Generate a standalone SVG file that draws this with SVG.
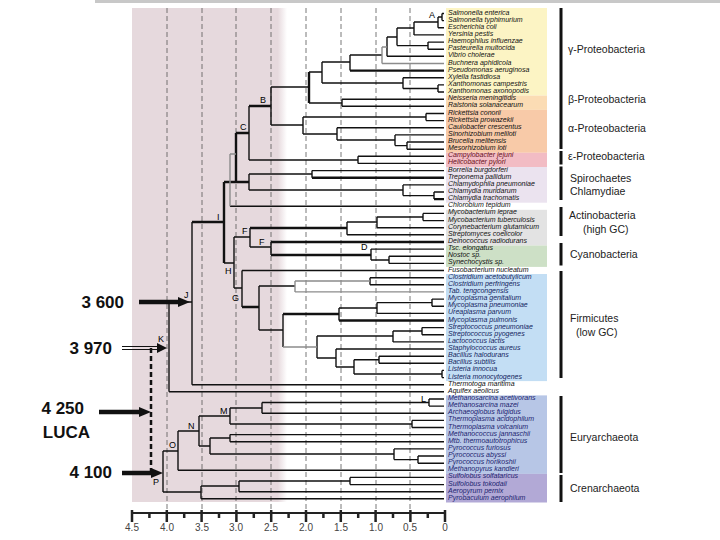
<svg xmlns="http://www.w3.org/2000/svg" width="720" height="540" viewBox="0 0 720 540">
<defs>
<linearGradient id="pk" x1="0" y1="0" x2="1" y2="0">
<stop offset="0" stop-color="#e6d9dd"/><stop offset="0.94" stop-color="#e6d9dd"/><stop offset="1" stop-color="#e6d9dd" stop-opacity="0"/>
</linearGradient>
<marker id="ah" markerUnits="userSpaceOnUse" markerWidth="12" markerHeight="10" refX="4" refY="5" orient="auto">
<path d="M0,0 L12,5 L0,10 z" fill="#111"/>
</marker>
</defs>
<style>
.sp{font-family:"Liberation Sans",Arial,sans-serif;font-size:7px;font-style:italic;fill:#111}
.e{fill:#6a1020}
.f{fill:#13245e}
.a{fill:#1c2470}
.grp{font-family:"Liberation Sans",Arial,sans-serif;font-size:10.5px;fill:#222}
.nl{font-family:"Liberation Sans",Arial,sans-serif;font-size:9px;fill:#000}
.big{font-family:"Liberation Sans",Arial,sans-serif;font-size:17px;font-weight:bold;fill:#111;text-anchor:end}
.ax{font-family:"Liberation Sans",Arial,sans-serif;font-size:10px;fill:#444;text-anchor:middle}
.dash{stroke:#555;stroke-width:0.8;stroke-dasharray:5 3;fill:none}
.tn{fill:none;stroke:#111;stroke-width:1.4}
.tk{fill:none;stroke:#111;stroke-width:2.4}
.tg{fill:none;stroke:#8c8c8c;stroke-width:1.4}
.arr{stroke:#111;stroke-width:4.5;fill:none}
</style>

<rect x="95" y="0" width="625" height="3" fill="#c8c8c8"/>
<rect x="132" y="8" width="155" height="494" fill="url(#pk)"/>

<g id="bands">
<rect x="446" y="8" width="101" height="87.6" fill="#fcf4c4"/>
<rect x="446" y="95.6" width="101" height="14.3" fill="#fbdcb4"/>
<rect x="446" y="109.9" width="101" height="42.9" fill="#f8caa8"/>
<rect x="446" y="152.8" width="101" height="14.2" fill="#f2bcc4"/>
<rect x="446" y="167" width="101" height="35.7" fill="#ebe3ef"/>
<rect x="446" y="209.8" width="101" height="35.7" fill="#e3e3e3"/>
<rect x="446" y="245.5" width="101" height="21.4" fill="#cde0c6"/>
<rect x="446" y="274" width="101" height="107.1" fill="#c3def4"/>
<rect x="446" y="395.4" width="101" height="78.5" fill="#b7c6e6"/>
<rect x="446" y="473.9" width="101" height="28.6" fill="#b2a9d6"/>
</g>

<g id="grid">
<path class="dash" d="M167 8V510 M202 8V510 M236 8V510 M271 8V510 M306 8V510 M341 8V510 M376 8V510 M410 8V510"/>
</g>

<g id="axis">
<path d="M132 513H445" stroke="#222" stroke-width="2"/>
<path d="M132 510V522 M166.8 510V522 M201.6 510V522 M236.4 510V522 M271.2 510V522 M306 510V522 M340.8 510V522 M375.6 510V522 M410.4 510V522 M445 510V522" stroke="#222" stroke-width="2.5"/>
<path d="M149.4 513V518 M184.2 513V518 M219 513V518 M253.8 513V518 M288.6 513V518 M323.4 513V518 M358.2 513V518 M393 513V518 M427.8 513V518" stroke="#222" stroke-width="2.5"/>
<text class="ax" x="132" y="531">4.5</text>
<text class="ax" x="167" y="531">4.0</text>
<text class="ax" x="202" y="531">3.5</text>
<text class="ax" x="236" y="531">3.0</text>
<text class="ax" x="271" y="531">2.5</text>
<text class="ax" x="306" y="531">2.0</text>
<text class="ax" x="341" y="531">1.5</text>
<text class="ax" x="376" y="531">1.0</text>
<text class="ax" x="410" y="531">0.5</text>
<text class="ax" x="445" y="531">0</text>
</g>

<g id="connectors">
<path class="tn" d="M442 13.5H444 M442 20.6H444 M438 27.8H444 M414 34.9H444 M428 42.1H444 M428 49.2H444 M387 56.3H444 M403 77.8H444 M438 84.9H444 M438 92H444 M342 99.2H444 M342 106.3H444 M426 113.5H444 M426 120.6H444 M337 127.7H444 M395 134.9H444 M407 142H444 M407 149.2H444 M358 156.3H444 M358 163.4H444 M312 170.6H444 M403 184.9H444 M434 192H444 M230 206.3H444 M423 213.4H444 M423 220.6H444 M377 227.7H444 M347 234.8H444 M371 249.1H444 M389 256.3H444 M389 263.4H444 M242 270.5H444 M370 277.7H444 M370 284.8H444 M432 299.1H444 M432 306.2H444 M377 313.4H444 M422 327.6H444 M422 334.8H444 M393 341.9H444 M336 349H444 M379 356.2H444 M379 363.3H444 M442 370.4H444 M442 377.6H444 M192 384.7H444 M169 391.8H444 M429 399H444 M429 406.1H444 M262 413.2H444 M412 420.4H444 M412 427.5H444 M230 434.6H444 M230 441.8H444 M394 448.9H444 M418 456H444 M418 463.2H444 M178 470.3H444 M350 477.4H444 M350 484.6H444 M239 491.7H444 M201 498.8H444
M442 13.5V20.6 M438 17H442 M438 17V27.8 M414 22H438 M414 22V34.9 M397 28H414 M428 42.1V49.2 M397 45.6H428 M397 28V45.6 M387 37H397 M387 37V56.3 M350 55H382 M350 55V70.6 M322 62H350 M438 84.9V92 M403 88.5H438 M403 77.8V88.5 M322 83H403 M322 62V83 M309 72H322 M342 99.2V106.3 M309 103H342 M271 87H309
M426 113.5V120.6 M303 117H426 M407 142V149.2 M395 145.6H407 M395 134.9V145.6 M337 140H395 M337 127.7V140 M303 134H337 M303 117V134 M271 125H303 M271 87V125 M358 156.3V163.4 M249 160H358 M249 106V160
M312 170.6V177.7 M249 174H312 M434 192V199.1 M403 195.6H434 M403 184.9V195.6 M249 190H403 M249 174V190
M224 263H234 M234 237V288 M234 237H250 M250 228V247 M347 222V234.8 M347 222H377 M377 217V227.7 M377 217H423 M423 213.4V220.6 M250 247H271 M271 242V255 M371 249.1V260 M371 260H389 M389 256.3V263.4
M234 288H242 M242 270.5V307 M259 286V330 M259 286H295 M370 277.7V284.8 M259 330H283 M283 314V347 M339 308V320.5 M339 308H377 M377 302.6V313.4 M377 302.6H432 M432 299.1V306.2 M317 336V358 M317 336H393 M393 331V341.9 M393 331H422 M422 327.6V334.8 M317 358H336 M336 349V367 M336 367H354 M354 359.7V374 M354 359.7H379 M379 356.2V363.3 M354 374H442 M442 370.4V377.6
M192 222V384.7 M169 302H192 M169 302V391.8
M429 399V406.1 M262 402.5H429 M262 402.5V413.2 M230 408H262 M230 408V424 M230 424H412 M412 420.4V427.5 M199 416H230 M230 434.6V441.8 M210 438H230 M418 456V463.2 M394 459.6H418 M394 448.9V459.6 M210 454H394 M210 438V454 M199 446H210 M199 416V446 M178 431H199 M178 431V470.3 M163 451H178 M350 477.4V484.6 M239 481H350 M239 481V491.7 M201 486H239 M201 486V498.8 M163 492H201 M163 451V492"/>
<path class="tk" d="M350 70.6H444 M312 177.7H444 M434 199.1H444 M271 242H444 M339 320.5H444 M309 72V103 M249 106H271 M236 133H249 M236 133V182 M224 182H249 M224 182V263 M192 222H224 M250 228H347 M271 255H371 M242 307H259 M283 314H339"/>
<path class="tg" d="M382 63.5H444 M382 47H387 M382 47V63.5 M295 291.9H444 M295 281V291.9 M295 281H370 M230 154V206.3 M230 154H236 M283 347H317"/>
</g>

<g id="node-labels">
<text class="nl" x="429" y="18">A</text>
<text class="nl" x="260" y="103">B</text>
<text class="nl" x="240" y="130">C</text>
<text class="nl" x="361" y="250">D</text>
<text class="nl" x="242" y="234">F</text>
<text class="nl" x="259" y="245">F</text>
<text class="nl" x="232" y="301">G</text>
<text class="nl" x="225" y="274">H</text>
<text class="nl" x="217" y="220">I</text>
<text class="nl" x="184" y="298">J</text>
<text class="nl" x="158" y="342" font-size="8">K</text>
<text class="nl" x="421" y="402">L</text>
<text class="nl" x="220" y="414">M</text>
<text class="nl" x="188" y="429">N</text>
<text class="nl" x="169" y="448">O</text>
<text class="nl" x="153" y="485">P</text>
</g>

<g id="species-gamma">
<text class="sp" x="448" y="14.5">Salmonella enterica</text>
<text class="sp" x="448" y="21.6">Salmonella typhimurium</text>
<text class="sp" x="448" y="28.8">Escherichia coli</text>
<text class="sp" x="448" y="35.9">Yersinia pestis</text>
<text class="sp" x="448" y="43.1">Haemophilus influenzae</text>
<text class="sp" x="448" y="50.2">Pasteurella multocida</text>
<text class="sp" x="448" y="57.3">Vibrio cholerae</text>
<text class="sp" x="448" y="64.5">Buchnera aphidicola</text>
<text class="sp" x="448" y="71.6">Pseudomonas aeruginosa</text>
<text class="sp" x="448" y="78.8">Xylella fastidiosa</text>
<text class="sp" x="448" y="85.9">Xanthomonas campestris</text>
<text class="sp" x="448" y="93">Xanthomonas axonopodis</text>
</g>
<g id="species-beta">
<text class="sp" x="448" y="100.2">Neisseria meningitidis</text>
<text class="sp" x="448" y="107.3">Ralstonia solanacearum</text>
</g>
<g id="species-alpha">
<text class="sp" x="448" y="114.5">Rickettsia conorii</text>
<text class="sp" x="448" y="121.6">Rickettsia prowazekii</text>
<text class="sp" x="448" y="128.7">Caulobacter crescentus</text>
<text class="sp" x="448" y="135.9">Sinorhizobium meliloti</text>
<text class="sp" x="448" y="143">Brucella melitensis</text>
<text class="sp" x="448" y="150.2">Mesorhizobium loti</text>
</g>
<g id="species-epsilon">
<text class="sp e" x="448" y="157.3">Campylobacter jejuni</text>
<text class="sp e" x="448" y="164.4">Helicobacter pylori</text>
</g>
<g id="species-spiro-chlam">
<text class="sp" x="448" y="171.6">Borrelia burgdorferi</text>
<text class="sp" x="448" y="178.7">Treponema pallidum</text>
<text class="sp" x="448" y="185.9">Chlamydophila pneumoniae</text>
<text class="sp" x="448" y="193">Chlamydia muridarum</text>
<text class="sp" x="448" y="200.1">Chlamydia trachomatis</text>
<text class="sp" x="448" y="207.3">Chlorobium tepidum</text>
</g>
<g id="species-actino">
<text class="sp" x="448" y="214.4">Mycobacterium leprae</text>
<text class="sp" x="448" y="221.6">Mycobacterium tuberculosis</text>
<text class="sp" x="448" y="228.7">Corynebacterium glutamicum</text>
<text class="sp" x="448" y="235.8">Streptomyces coelicolor</text>
<text class="sp" x="448" y="243">Deinococcus radiodurans</text>
</g>
<g id="species-cyano">
<text class="sp" x="448" y="250.1">Tsc. elongatus</text>
<text class="sp" x="448" y="257.3">Nostoc sp.</text>
<text class="sp" x="448" y="264.4">Synechocystis sp.</text>
<text class="sp" x="448" y="271.5">Fusobacterium nucleatum</text>
</g>
<g id="species-firmicutes">
<text class="sp f" x="448" y="278.7">Clostridium acetobutylicum</text>
<text class="sp f" x="448" y="285.8">Clostridium perfringens</text>
<text class="sp f" x="448" y="292.9">Tab. tengcongensis</text>
<text class="sp f" x="448" y="300.1">Mycoplasma genitalium</text>
<text class="sp f" x="448" y="307.2">Mycoplasma pneumoniae</text>
<text class="sp f" x="448" y="314.4">Ureaplasma parvum</text>
<text class="sp f" x="448" y="321.5">Mycoplasma pulmonis</text>
<text class="sp f" x="448" y="328.6">Streptococcus pneumoniae</text>
<text class="sp f" x="448" y="335.8">Streptococcus pyogenes</text>
<text class="sp f" x="448" y="342.9">Lactococcus lactis</text>
<text class="sp f" x="448" y="350">Staphylococcus aureus</text>
<text class="sp f" x="448" y="357.2">Bacillus halodurans</text>
<text class="sp f" x="448" y="364.3">Bacillus subtilis</text>
<text class="sp f" x="448" y="371.4">Listeria innocua</text>
<text class="sp f" x="448" y="378.6">Listeria monocytogenes</text>
</g>
<g id="species-other">
<text class="sp" x="448" y="385.7">Thermotoga maritima</text>
<text class="sp" x="448" y="392.8">Aquifex aeolicus</text>
</g>
<g id="species-eury">
<text class="sp a" x="448" y="400">Methanosarcina acetivorans</text>
<text class="sp a" x="448" y="407.1">Methanosarcina mazei</text>
<text class="sp a" x="448" y="414.2">Archaeoglobus fulgidus</text>
<text class="sp a" x="448" y="421.4">Thermoplasma acidophilum</text>
<text class="sp a" x="448" y="428.5">Thermoplasma volcanium</text>
<text class="sp a" x="448" y="435.6">Methanococcus jannaschii</text>
<text class="sp a" x="448" y="442.8">Mtb. thermoautotrophicus</text>
<text class="sp a" x="448" y="449.9">Pyrococcus furiosus</text>
<text class="sp a" x="448" y="457">Pyrococcus abyssi</text>
<text class="sp a" x="448" y="464.2">Pyrococcus horikoshii</text>
<text class="sp a" x="448" y="471.3">Methanopyrus kandleri</text>
</g>
<g id="species-cren">
<text class="sp a" x="448" y="478.4">Sulfolobus solfataricus</text>
<text class="sp a" x="448" y="485.6">Sulfolobus tokodaii</text>
<text class="sp a" x="448" y="492.7">Aeropyrum pernix</text>
<text class="sp a" x="448" y="499.8">Pyrobaculum aerophilum</text>
</g>

<g id="group-brackets" fill="#111">
<rect x="559.5" y="8" width="3" height="141"/>
<rect x="559.5" y="151" width="3" height="13.5"/>
<rect x="559.5" y="166.5" width="3" height="33.5"/>
<rect x="559.5" y="207" width="3" height="29"/>
<rect x="559.5" y="243" width="3" height="22.5"/>
<rect x="559.5" y="271" width="3" height="107"/>
<rect x="559.5" y="396" width="3" height="77"/>
<rect x="559.5" y="475" width="3" height="27"/>
</g>
<g id="group-labels">
<text class="grp" x="568" y="52.5">γ-Proteobacteria</text>
<text class="grp" x="568" y="103">β-Proteobacteria</text>
<text class="grp" x="568" y="131.5">α-Proteobacteria</text>
<text class="grp" x="568" y="159.5">ε-Proteobacteria</text>
<text class="grp" x="570" y="181.5">Spirochaetes</text>
<text class="grp" x="570" y="194.5">Chlamydiae</text>
<text class="grp" x="569" y="218.5">Actinobacteria</text>
<text class="grp" x="583" y="232.5">(high GC)</text>
<text class="grp" x="570" y="257.5">Cyanobacteria</text>
<text class="grp" x="570" y="321.5">Firmicutes</text>
<text class="grp" x="576" y="335.5">(low GC)</text>
<text class="grp" x="570" y="440.5">Euryarchaeota</text>
<text class="grp" x="570" y="491.5">Crenarchaeota</text>
</g>

<g id="age-3600">
<text class="big" x="124" y="308">3 600</text>
<path class="arr" d="M139 302H182" marker-end="url(#ah)"/>
</g>
<g id="age-3970">
<text class="big" x="112" y="354">3 970</text>
<path d="M122 346.5H159 M122 349.5H159" stroke="#111" stroke-width="1.1"/>
<path d="M157 343L167 348L157 353z" fill="#111"/>
</g>
<g id="age-4250-luca">
<text class="big" x="84" y="414">4 250</text>
<text class="big" x="90" y="438">LUCA</text>
<path class="arr" d="M99 412H143" marker-end="url(#ah)"/>
</g>
<g id="age-4100">
<text class="big" x="112" y="478">4 100</text>
<path class="arr" d="M122 473H155" marker-end="url(#ah)"/>
</g>
<path d="M151 348V472" stroke="#111" stroke-width="2.5" stroke-dasharray="5 3" fill="none"/>
</svg>
